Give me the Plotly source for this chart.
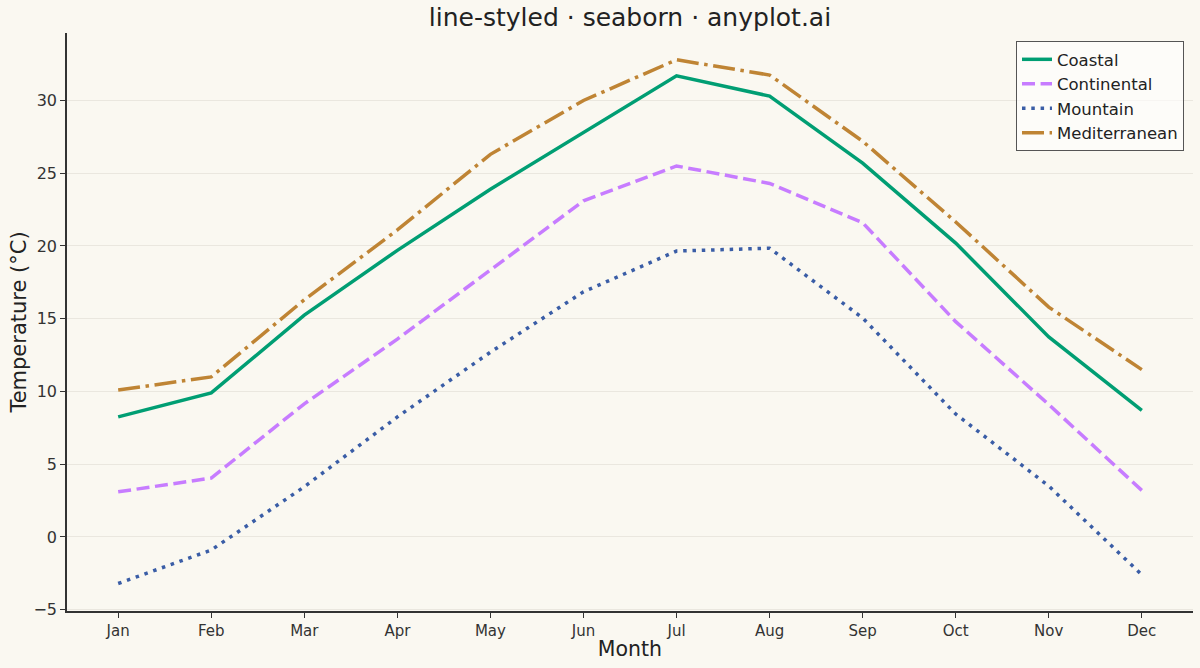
import plotly.graph_objects as go

# Monthly mean temperatures (°C)
months = ["Jan", "Feb", "Mar", "Apr", "May", "Jun",
          "Jul", "Aug", "Sep", "Oct", "Nov", "Dec"]

coastal = [8.25, 9.9, 15.25, 19.7, 23.9, 27.8, 31.7, 30.3, 25.7, 20.2, 13.75, 8.7]
continental = [3.1, 4.05, 9.15, 13.6, 18.35, 23.1, 25.5, 24.3, 21.6, 14.8, 9.1, 3.2]
mountain = [-3.2, -0.9, 3.45, 8.25, 12.7, 16.85, 19.65, 19.85, 15.05, 8.45, 3.5, -2.6]
mediterranean = [10.1, 11.0, 16.3, 21.1, 26.3, 30.0, 32.8, 31.75, 27.2, 21.65, 15.8, 11.5]

y_ticks = [-5, 0, 5, 10, 15, 20, 25, 30]

# matplotlib-like dash patterns scaled to the line width
series = [
    ("Coastal", coastal, "#009E73", "solid"),
    ("Continental", continental, "#C77CFF", "13px,5.6px"),
    ("Mountain", mountain, "#3A5DA6", "3.5px,5.8px"),
    ("Mediterranean", mediterranean, "#BF8434", "22px,5.6px,3.5px,5.6px"),
]

BG = "#FAF8F1"
INK = "#333333"

fig = go.Figure()

for name, vals, color, dash in series:
    fig.add_trace(go.Scatter(
        x=list(range(len(months))),
        y=vals,
        name=name,
        mode="lines",
        line=dict(color=color, width=3.5, dash=dash),
    ))

fig.update_layout(
    width=1200,
    height=668,
    paper_bgcolor=BG,
    plot_bgcolor=BG,
    font=dict(family="DejaVu Sans", color=INK),
    margin=dict(l=67, r=7, t=33, b=57),
    title=dict(
        text="line-styled · seaborn · anyplot.ai",
        xref="paper", x=0.5, xanchor="center",
        y=0.988, yanchor="top",
        font=dict(size=25, color="#222222"),
    ),
    legend=dict(
        x=0.992, y=0.986, xanchor="right", yanchor="top",
        bgcolor="rgba(255,255,255,0.6)",
        bordercolor="#555555", borderwidth=1,
        font=dict(size=16.5, color="#222222"),
        itemwidth=30,
    ),
    showlegend=True,
)

fig.update_xaxes(
    range=[-0.55, 11.55],
    tickmode="array",
    tickvals=list(range(len(months))),
    ticktext=months,
    tickfont=dict(size=15, color=INK),
    ticks="outside", ticklen=5, tickcolor=INK,
    showline=True, linecolor=INK, linewidth=1.5,
    showgrid=False, zeroline=False, automargin=False,
    title=dict(text="Month", font=dict(size=20.5, color="#222222"), standoff=3),
)

fig.update_yaxes(
    range=[-5.09, 34.64],
    tickmode="array",
    tickvals=y_ticks,
    ticktext=[str(t).replace("-", "\u2212") for t in y_ticks],
    tickfont=dict(size=16, color=INK),
    ticks="outside", ticklen=5, tickcolor=INK,
    showline=True, linecolor=INK, linewidth=1.5,
    showgrid=True, gridcolor="#EAE7DF", gridwidth=1,
    zeroline=False, automargin=False,
    title=dict(text="Temperature (°C)", font=dict(size=21, color="#222222"), standoff=1),
)

# drop the default 8px body margin so the figure fills the window
fig.write_html(
    "out.html",
    config={"displayModeBar": False},
    post_script="document.body.style.margin = '0';",
)
